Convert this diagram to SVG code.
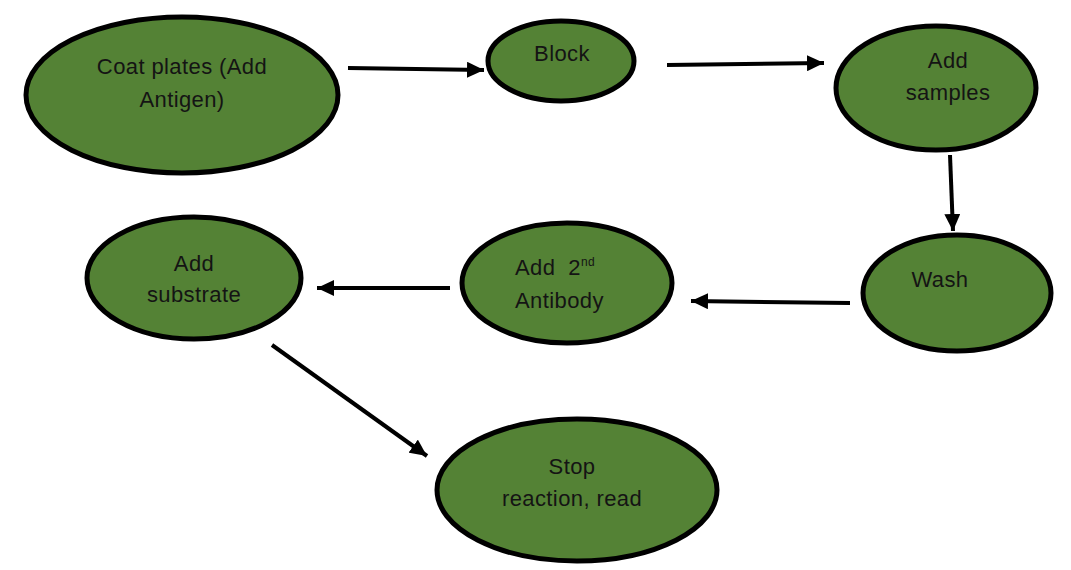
<svg xmlns="http://www.w3.org/2000/svg" width="1071" height="570" viewBox="0 0 1071 570">
<defs>
<style>
.node ellipse{fill:#548235;stroke:#000;stroke-width:5}
.node text{font-family:"Liberation Sans",Arial,sans-serif;font-size:22px;letter-spacing:0.4px;fill:#141414;text-anchor:middle}
.edge{stroke:#000;stroke-width:4;fill:none;marker-end:url(#ah)}
</style>
<marker id="ah" markerUnits="userSpaceOnUse" markerWidth="18" markerHeight="16" refX="17" refY="8" orient="auto">
<path d="M0,0 L17,8 L0,16 Z" fill="#000"/>
</marker>
</defs>
<rect width="1071" height="570" fill="#fff"/>
<g id="connectors">
<line class="edge" x1="348" y1="68" x2="484" y2="70"/>
<line class="edge" x1="667" y1="65" x2="824" y2="63"/>
<line class="edge" x1="950" y1="155" x2="953" y2="231"/>
<line class="edge" x1="850" y1="303" x2="691" y2="301"/>
<line class="edge" x1="450" y1="288" x2="317" y2="288"/>
<line class="edge" x1="272" y1="345" x2="427" y2="456"/>
</g>
<g id="coat" class="node">
<ellipse cx="182" cy="95" rx="156" ry="78"/>
<text x="182" y="74">Coat plates (Add</text>
<text x="182" y="107">Antigen)</text>
</g>
<g id="block" class="node">
<ellipse cx="561" cy="61" rx="73" ry="40"/>
<text x="562" y="61">Block</text>
</g>
<g id="samples" class="node">
<ellipse cx="936" cy="88" rx="100" ry="62"/>
<text x="948" y="68">Add</text>
<text x="948" y="100">samples</text>
</g>
<g id="wash" class="node">
<ellipse cx="957" cy="293" rx="94" ry="58"/>
<text x="940" y="287">Wash</text>
</g>
<g id="antibody" class="node">
<ellipse cx="567" cy="283" rx="105" ry="60"/>
<text x="515" y="275" style="text-anchor:start">Add&#160; 2<tspan font-size="12" dy="-9">nd</tspan></text>
<text x="515" y="308" style="text-anchor:start">Antibody</text>
</g>
<g id="substrate" class="node">
<ellipse cx="194" cy="278" rx="107" ry="61"/>
<text x="194" y="271">Add</text>
<text x="194" y="302">substrate</text>
</g>
<g id="stop" class="node">
<ellipse cx="577" cy="490" rx="140" ry="71"/>
<text x="572" y="474">Stop</text>
<text x="572" y="506">reaction, read</text>
</g>
</svg>
